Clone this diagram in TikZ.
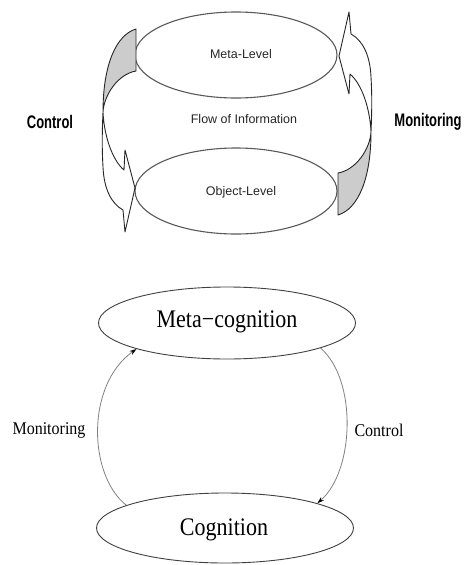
\documentclass[tikz,border=0pt]{standalone}
\usepackage{fontspec}
\setmainfont{Liberation Serif}
\newfontfamily\arialfont{Liberation Sans}
\usetikzlibrary{shapes.geometric,arrows.meta}
\tikzset{
  topell/.style={ellipse, draw=black!65, line width=1.1pt, inner sep=0pt, minimum width=202pt, minimum height=86pt},
  botell/.style={ellipse, draw=black!75, line width=0.9pt, inner sep=0pt, minimum width=257pt, minimum height=72pt},
  toptext/.style={font=\arialfont\fontsize{12.5}{14}\selectfont, text=black!85, inner sep=0pt},
  sidelabel/.style={font=\arialfont\bfseries\fontsize{13}{15}\selectfont, inner sep=0pt},
  ribbon/.style={draw=black!85, line width=0.9pt, line join=round},
  backface/.style={fill=black!20},
  bigtext/.style={font=\fontsize{22}{24}\selectfont, inner sep=0pt},
  smalltext/.style={font=\fontsize{16}{18}\selectfont, inner sep=0pt},
  loop/.style={draw=black!50, line width=0.8pt, -{Stealth[length=7pt,width=4.5pt,color=black]}}
}
\begin{document}
\begin{tikzpicture}[x=1pt,y=-1pt]
\useasboundingbox (0,0) rectangle (464,565);
% ---------- top diagram ----------
\node[topell] (ml) at (236,55) {};
\node[topell] (ol) at (236,191) {};
\node[toptext] (mlt) at (241,54) {Meta-Level};
\node[toptext] (olt) at (241,192) {Object-Level};
\node[toptext] (flow) at (244,119) {Flow of Information};
\node[sidelabel] (ctl) at (50,122) {\scalebox{1}[1.4]{Control}};
\node[sidelabel] (mon) at (428,122) {\scalebox{1}[1.4]{Monitoring}};
% ribbon arrows (control on the left, monitoring on the right)
\newcommand{\ribbonshape}{%
  \fill[backface] (136,29) .. controls (116,35) and (103,65) .. (103,112)
     .. controls (104,95) and (118,74) .. (136,71) -- cycle;
  \draw[ribbon] (136,29) .. controls (116,35) and (103,65) .. (103,112)
     .. controls (102,135) and (102,150) .. (103,167)
     .. controls (104,190) and (112,204) .. (123,210)
     -- (125,232) -- (135,188) -- (125,150) -- (124,170)
     .. controls (112,160) and (104,135) .. (103,112)
     .. controls (104,95) and (118,74) .. (136,71) -- cycle;
}
\ribbonshape
\begin{scope}[rotate around={180:(237,122)}]
\ribbonshape
\end{scope}
% ---------- bottom diagram ----------
\node[botell] (mc) at (227,323) {};
\node[botell, minimum height=70pt] (cg) at (225,528) {};
\node[bigtext] (mct) at (227,322) {\scalebox{1}[1.15]{Meta−cognition}};
\node[bigtext] (cgt) at (224,530) {\scalebox{1}[1.15]{Cognition}};
\node[smalltext] (monb) at (49,430) {\scalebox{1}[1.12]{Monitoring}};
\node[smalltext] (ctlb) at (379,430) {\scalebox{1}[1.12]{Control}};
\draw[loop] (cg.167) .. controls +(-38,-30) and +(-51,36) .. (mc.196);
\draw[loop] (mc.-15) .. controls +(37,32) and +(37,-32) .. (cg.15);
\end{tikzpicture}
\end{document}
